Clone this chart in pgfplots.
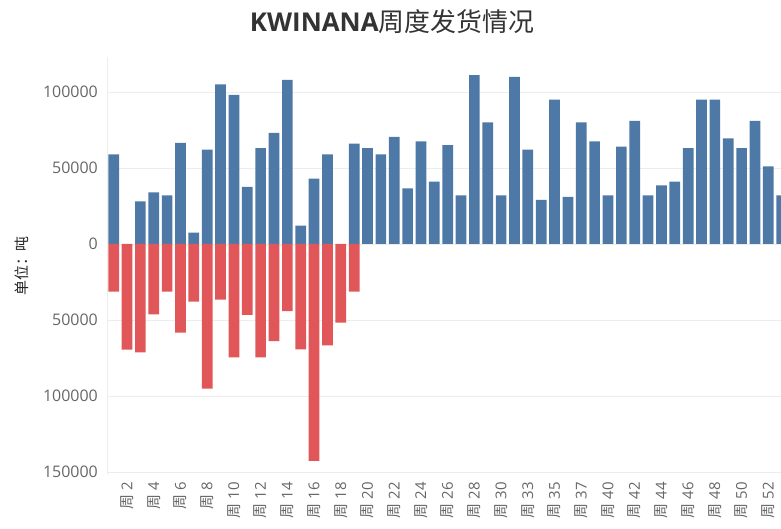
\documentclass[border=0pt]{standalone}
\usepackage{fontspec}
\setmainfont{Open Sans}
\newfontfamily\cjk{Noto Sans CJK SC}
\usepackage{pgfplots}
\pgfplotsset{compat=1.18}
\usetikzlibrary{calc}
\definecolor{tblue}{HTML}{4E79A7}
\definecolor{tred}{HTML}{E15759}
\definecolor{ticktext}{HTML}{666666}
\definecolor{gridc}{HTML}{EDEDED}
\newcommand{\zhou}{{\cjk 周}}
\begin{document}
\begin{tikzpicture}
\begin{axis}[
  name=ax,
  scale only axis, width=674bp, height=418bp,
  xmin=-0.5, xmax=49.95, ymin=-152000, ymax=123000,
  scaled y ticks=false,
  axis lines*=left,
  x axis line style={draw=none},
  y axis line style={draw=gridc, line width=0.8bp},
  major tick length=0pt,
  ymajorgrids, grid style={draw=gridc, line width=0.8bp},
  ytick={-150000,-100000,-50000,0,50000,100000},
  yticklabels={150000,100000,50000,0,50000,100000},
  yticklabel style={font=\fontsize{16}{18}\selectfont, text=ticktext, inner sep=0pt, inner xsep=9bp, anchor=east},
  xtick={1,3,...,49},
  xticklabels={\zhou~2,\zhou~4,\zhou~6,\zhou~8,\zhou~10,\zhou~12,\zhou~14,\zhou~16,\zhou~18,\zhou~20,\zhou~22,\zhou~24,\zhou~26,\zhou~28,\zhou~30,\zhou~33,\zhou~35,\zhou~37,\zhou~40,\zhou~42,\zhou~44,\zhou~46,\zhou~48,\zhou~50,\zhou~52},
  xticklabel style={rotate=90, anchor=east, font=\fontsize{15}{17}\selectfont, text=ticktext, inner sep=0pt, inner xsep=7bp},
  clip=true,
]
\addplot[ybar, bar width=0.8, bar shift=0, fill=tblue, draw=none] coordinates {
(0,59000) (2,28000) (3,34000) (4,32000) (5,66500) (6,7500) (7,62000) (8,105000) (9,98000)
(10,37500) (11,63000) (12,73000) (13,108000) (14,12000) (15,43000) (16,59000)
(18,66000) (19,63000) (20,59000) (21,70500) (22,36500) (23,67500) (24,41000) (25,65000)
(26,32000) (27,111000) (28,80000) (29,32000) (30,110000) (31,62000) (32,29000) (33,95000)
(34,31000) (35,80000) (36,67500) (37,32000) (38,64000) (39,81000) (40,32000) (41,38500)
(42,41000) (43,63000) (44,95000) (45,95000) (46,69500) (47,63000) (48,81000) (49,51000) (50,32000)
};
\addplot[ybar, bar width=0.8, bar shift=0, fill=tred, draw=none] coordinates {
(0,-31300) (1,-69500) (2,-71300) (3,-46400) (4,-31300) (5,-58400) (6,-38000) (7,-95200)
(8,-36600) (9,-74600) (10,-46600) (11,-74600) (12,-63900) (13,-44200) (14,-69300)
(15,-142700) (16,-66800) (17,-51700) (18,-31300)
};
\end{axis}
\node[text=black!80, font=\fontsize{26}{30}\selectfont] at ($(ax.south west)+(285bp,453bp)$) {{\bfseries KWINANA}{\cjk 周度发货情况}};
\node[rotate=90, text=black!85, font=\fontsize{15}{17}\selectfont] at ($(ax.south west)+(-85.5bp,209bp)$) {\cjk 单位：吨};
\pgfresetboundingbox
\path[use as bounding box] ($(ax.south west)+(-107bp,-54bp)$) rectangle ++(781bp,529bp);
\end{tikzpicture}
\end{document}
